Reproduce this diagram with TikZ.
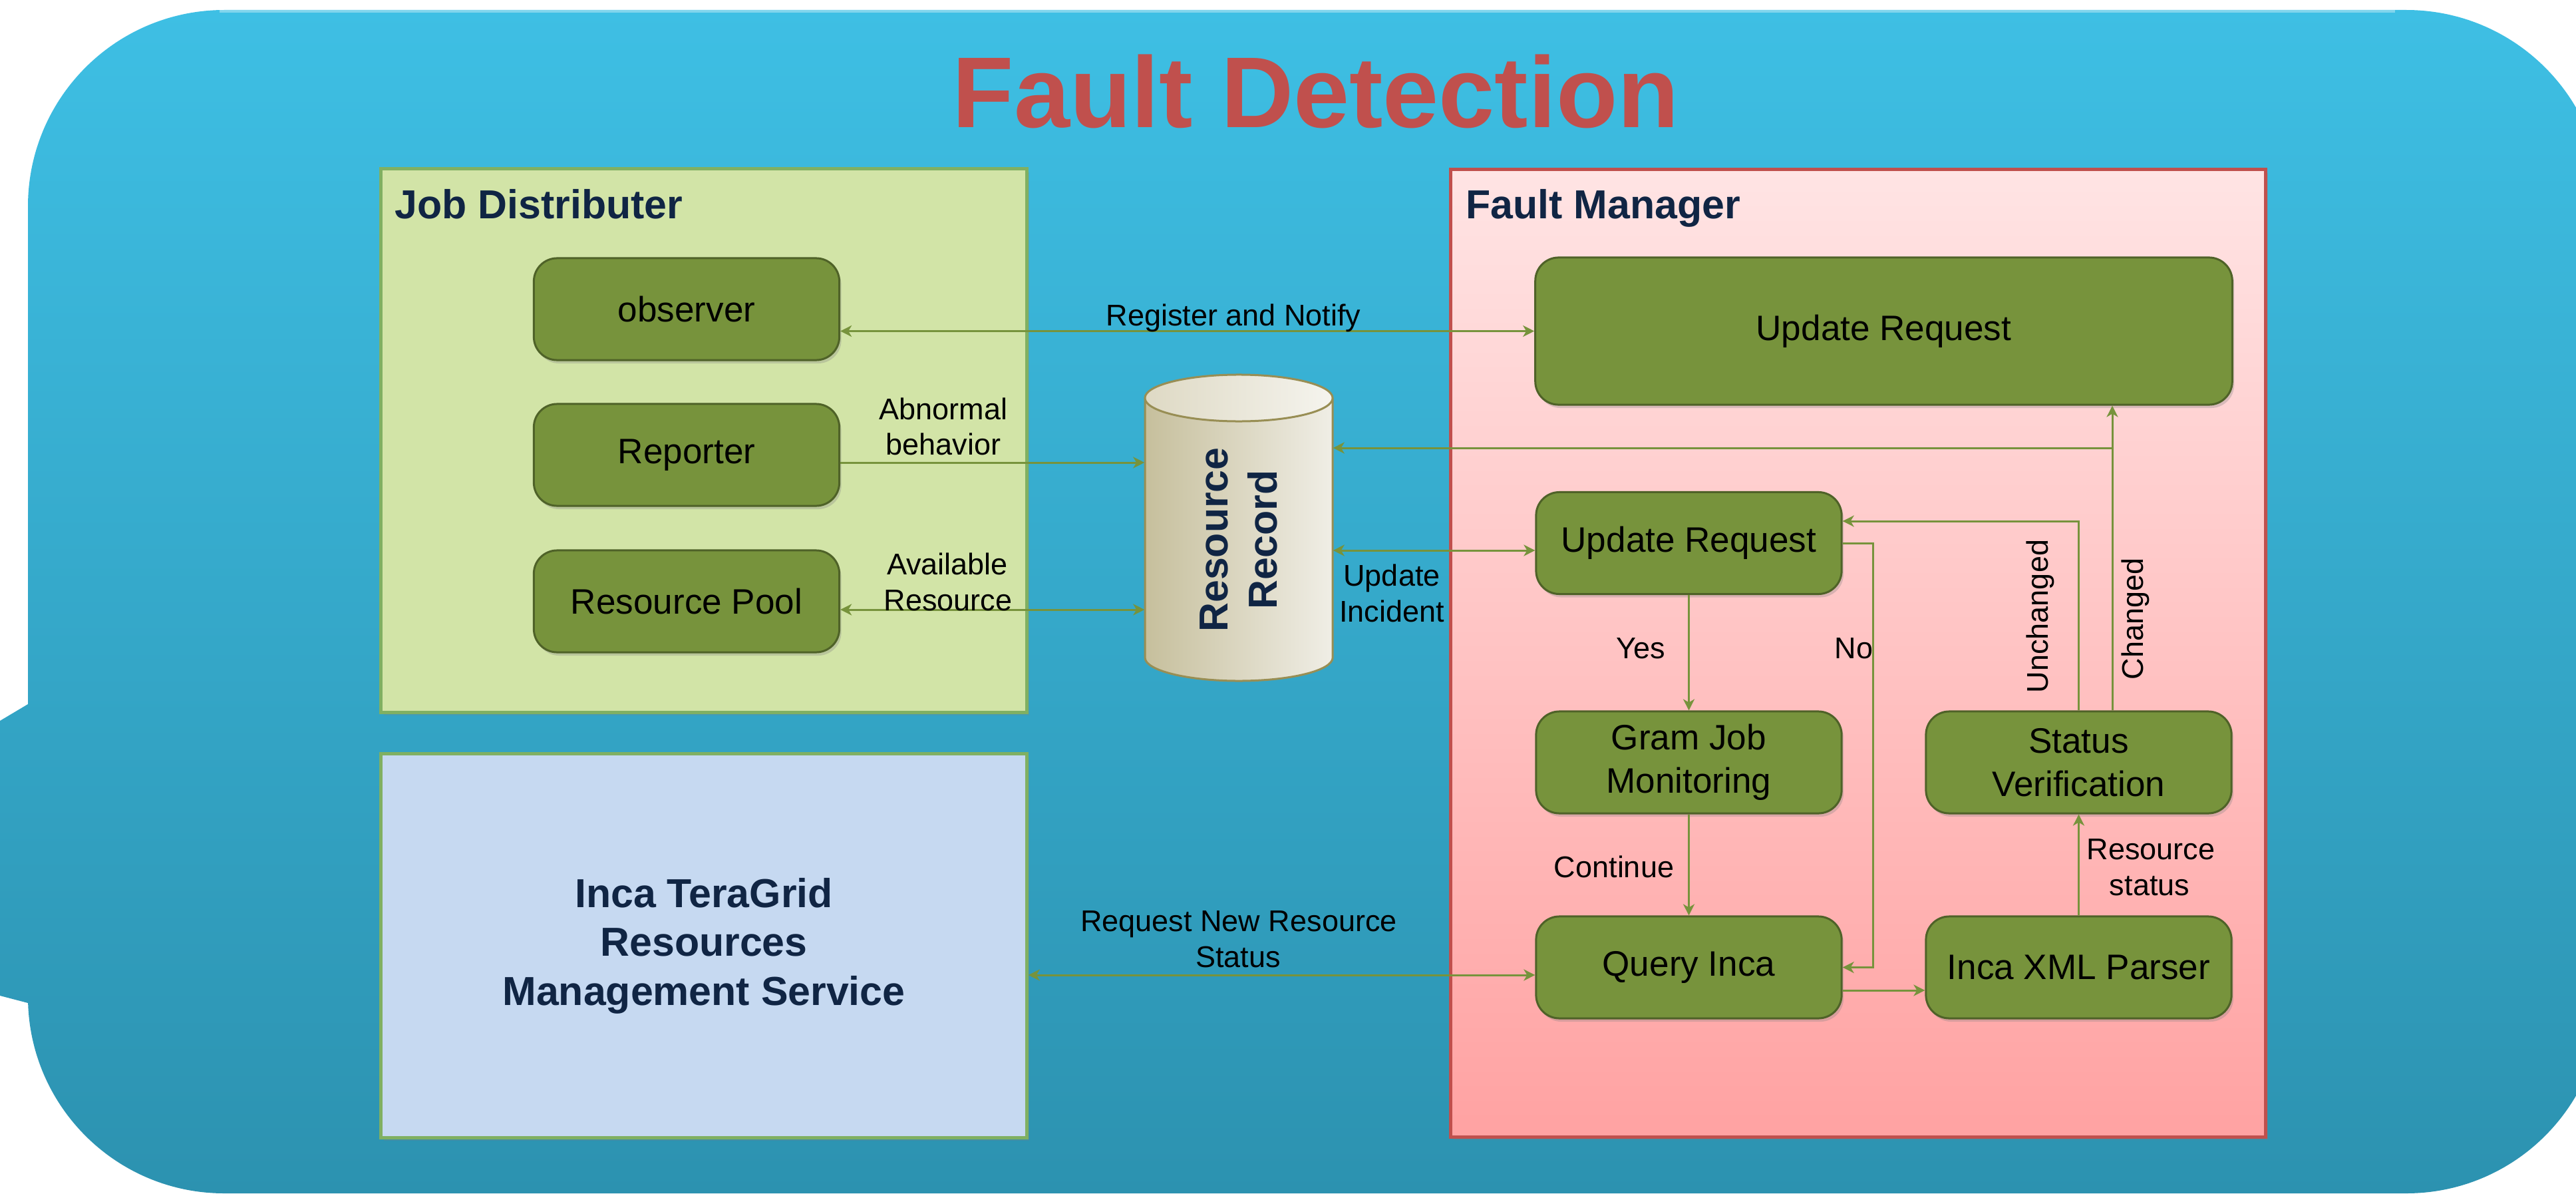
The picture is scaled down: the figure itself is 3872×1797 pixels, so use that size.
\documentclass[tikz,border=0pt]{standalone}
\usepackage{fontspec}
\setmainfont{Liberation Sans}
\usetikzlibrary{arrows.meta,shadows}

\definecolor{bgtop}{RGB}{62,191,228}
\definecolor{bgbot}{RGB}{44,146,176}
\definecolor{olive}{RGB}{119,147,60}
\definecolor{olivedark}{RGB}{79,98,40}
\definecolor{navy}{RGB}{16,37,68}
\definecolor{titlered}{RGB}{192,80,77}
\definecolor{jdfill}{RGB}{210,228,167}
\definecolor{jdedge}{RGB}{128,176,98}
\definecolor{incafill}{RGB}{198,217,241}
\definecolor{fmtop}{RGB}{255,228,228}
\definecolor{fmbot}{RGB}{255,162,162}
\definecolor{fmedge}{RGB}{192,80,77}
\definecolor{cylL}{RGB}{198,191,156}
\definecolor{cylR}{RGB}{240,238,230}
\definecolor{cyltopL}{RGB}{222,217,196}
\definecolor{cyltopR}{RGB}{245,244,238}
\definecolor{cyledge}{RGB}{152,142,84}

\newcommand\boxfont{\fontsize{15.1}{18.5}\selectfont}
\newcommand\lblfont{\fontsize{12.8}{15.4}\selectfont}
\newcommand\headfont{\bfseries\fontsize{17.3}{20.9}\selectfont}
\newcommand\titlefont{\bfseries\fontsize{43}{50}\selectfont}

\tikzset{
  container/.style={line width=0.05cm, inner sep=0pt,
    drop shadow={shadow xshift=0.04cm, shadow yshift=-0.05cm, opacity=0.25}},
  greenbox/.style={draw=olivedark, fill=olive, line width=0.03cm,
    rounded corners=0.35cm, minimum width=4.59cm, minimum height=1.53cm,
    inner sep=0pt, align=center, font=\boxfont, text=black,
    drop shadow={shadow xshift=0.03cm, shadow yshift=-0.05cm, opacity=0.3}},
  heading/.style={font=\headfont, text=navy, inner sep=0pt},
  lbl/.style={font=\lblfont, text=black, inner sep=0pt},
  arr/.style={draw=olive, line width=0.03cm,
    -{Stealth[length=0.17cm,width=0.17cm,inset=0.05cm]}},
  arrboth/.style={draw=olive, line width=0.03cm,
    {Stealth[length=0.17cm,width=0.17cm,inset=0.05cm]}-{Stealth[length=0.17cm,width=0.17cm,inset=0.05cm]}},
}

\begin{document}
\begin{tikzpicture}[x=0.01cm, y=-0.01cm]
\useasboundingbox (0,0) rectangle (3872,1797);

% rounded callout background with its pointer on the left
\begin{scope}
  \clip (0,0) rectangle (3872,1797);
  \shade[top color=bgtop, bottom color=bgbot, rounded corners=2.95cm]
    (42,15) rectangle (3912,1793)
    [sharp corners] (42,1058) -- (-482,1370) -- (42,1507) -- cycle;
  \draw[white, opacity=0.35, line width=0.04cm] (330,17) -- (3600,17);
\end{scope}

% title
\node[font=\titlefont, text=titlered, anchor=base, inner sep=0pt] (title) at (1978,192) {Fault Detection};

% containers
\node[container, fill=jdfill, draw=jdedge, minimum width=9.70cm, minimum height=8.16cm] (jd) at (1058,662) {};
\node[container, fill=incafill, draw=jdedge, minimum width=9.70cm, minimum height=5.76cm,
      font=\headfont, text=navy, align=center] (inca) at (1058,1421)
      {Inca TeraGrid\\Resources\\Management Service};
\node[container, draw=fmedge, top color=fmtop, bottom color=fmbot,
      minimum width=12.24cm, minimum height=14.53cm] (fm) at (2793,981.5) {};

\node[heading, anchor=base west] (jdtitle) at (593,328) {Job Distributer};
\node[heading, anchor=base west] (fmtitle) at (2203,328) {Fault Manager};

% job distributer parts
\node[greenbox] (obs)  at (1032,464.5) {observer};
\node[greenbox] (rep)  at (1032,683.5) {Reporter};
\node[greenbox] (pool) at (1032,903.5) {Resource Pool};

% fault manager parts
\node[greenbox, minimum width=10.47cm, minimum height=2.21cm] (ur1) at (2831.5,497.5) {Update Request};
\node[greenbox] (ur2)  at (2538.5,816)    {Update Request};
\node[greenbox] (gram) at (2538.5,1145.5) {Gram Job\\Monitoring};
\node[greenbox] (sv)   at (3124.5,1145.5) {Status\\Verification};
\node[greenbox] (qi)   at (2538.5,1453.5) {Query Inca};
\node[greenbox] (xml)  at (3124.5,1453.5) {Inca XML Parser};

% resource record cylinder
\shade[left color=cylL, right color=cylR]
  (1721,598) -- (1721,988) arc[start angle=180, end angle=360, x radius=1.41cm, y radius=0.35cm]
  -- (2003,598) arc[start angle=0, end angle=180, x radius=1.41cm, y radius=0.35cm] -- cycle;
\draw[cyledge, line width=0.03cm]
  (1721,598) -- (1721,988) arc[start angle=180, end angle=360, x radius=1.41cm, y radius=0.35cm]
  -- (2003,598);
\shade[left color=cyltopL, right color=cyltopR] (1862,598) ellipse[x radius=1.41cm, y radius=0.35cm];
\draw[cyledge, line width=0.03cm] (1862,598) ellipse[x radius=1.41cm, y radius=0.35cm];
\node[minimum width=2.82cm, minimum height=4.6cm, inner sep=0pt] (cyl) at (1862,793) {};
\node[font=\headfont, text=navy, rotate=90, align=center, inner sep=0pt] (cyltext) at (1862,811) {Resource\\Record};

% connectors
\draw[arrboth] (obs.east |- ur1.west) -- (ur1.west);
\draw[arr] (rep.east |- 0,695) -- (cyl.west |- 0,695);
\draw[arrboth] (pool.east |- 0,916) -- (cyl.west |- 0,916);
\draw[arrboth] (cyl.east |- 0,827) -- (ur2.west |- 0,827);
\draw[arrboth] (inca.east |- 0,1465) -- (qi.west |- 0,1465);

\draw[arr] (ur2.south) -- (gram.north);
\draw[arr] (gram.south) -- (qi.north);
\draw[arr] (ur2.east) -- (ur2.east -| 2815,0) |- (qi.east);
\draw[arr] (qi.east |- 0,1488) -- (xml.west |- 0,1488);
\draw[arr] (xml.north) -- (sv.south);
\draw[arr] (sv.north) -- (sv.north |- 0,783) -- (ur2.east |- 0,783);
\coordinate (chg) at (3175,673);
\draw[arr] (sv.north -| chg) -- (ur1.south -| chg);
\draw[arr] (chg) -- (cyl.east |- chg);

% connector labels
\node[lbl, anchor=base] (lreg) at (1854,489) {Register and Notify};
\node[lbl, anchor=base] (lab1) at (1418,630) {Abnormal};
\node[lbl, anchor=base] (lab2) at (1418,683) {behavior};
\node[lbl, anchor=base] (lav1) at (1424,863) {Available};
\node[lbl, anchor=base] (lav2) at (1425,917) {Resource};
\node[lbl, anchor=base] (lui1) at (2092,880) {Update};
\node[lbl, anchor=base] (lui2) at (2092,934) {Incident};
\node[lbl, anchor=base] (lrq1) at (1862,1399) {Request New Resource};
\node[lbl, anchor=base] (lrq2) at (1861,1453) {Status};
\node[lbl, anchor=base] (lyes) at (2466,989) {Yes};
\node[lbl, anchor=base east] (lno) at (2816,989) {No};
\node[lbl, anchor=base] (lcont) at (2426,1318) {Continue};
\node[lbl, anchor=base] (lrs1) at (3233,1291) {Resource};
\node[lbl, anchor=base] (lrs2) at (3231,1345) {status};
\node[lbl, rotate=90] (lunch) at (3067,926) {Unchanged};
\node[lbl, rotate=90] (lchg) at (3210,930) {Changed};
\end{tikzpicture}
\end{document}
